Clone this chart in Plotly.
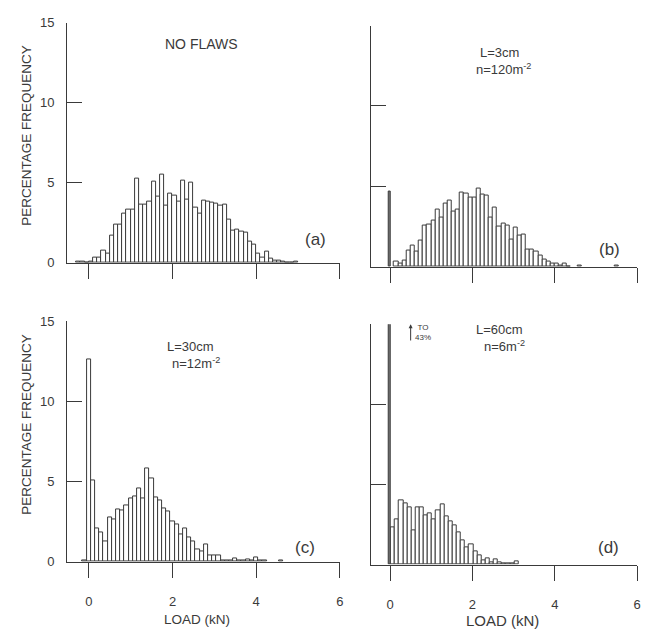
import plotly.graph_objects as go

# ---------------- data (percentage frequency per 0.1 kN load bin) ----------------
bin_w = 0.1

# (a) no flaws: bins with left edges from -0.3 kN
a_start = -0.3
a_vals = [0.1, 0.08, 0.0,
          0.1, 0.3, 0.35, 0.75, 0.55, 1.7, 2.4, 2.4, 3.05, 3.3,
          3.35, 5.25, 3.65, 3.65, 3.85, 5.05, 4.15, 5.5, 3.6, 4.3,
          4.2, 3.8, 5.15, 3.95, 5.0, 3.45, 3.1, 3.9, 3.8, 3.75,
          3.7, 3.6, 3.65, 2.7, 2.0, 2.05, 1.95, 1.9, 1.35, 1.15,
          0.55, 0.3, 0.72, 0.25, 0.12, 0.15, 0.06, 0.04, 0.03, 0.08]

# (b) L = 3 cm: spike at zero load, then bins from 0.1 kN
b_spike = 4.7
b_start = 0.1
b_vals = [0.35, 0.2, 0.4, 1.0, 1.33, 0.96, 1.6, 2.55, 2.65, 2.9,
          3.55, 3.07, 3.93, 4.1, 3.45, 3.58, 4.64, 4.54, 4.3, 4.3,
          4.85, 4.5, 4.4, 3.05, 3.68, 2.5, 2.7, 2.55, 1.68, 2.45,
          1.92, 1.98, 1.1, 1.1, 0.96, 0.7, 0.45, 0.3, 0.2, 0.2,
          0.08, 0.2, 0.04]
b_out_x = [4.6, 5.5]
b_out_y = [0.1, 0.06]

# (c) L = 30 cm: bins centred from -0.1 kN
c_start = -0.1
c_vals = [0.1, 12.6, 5.1, 2.1, 1.84, 1.29, 2.78, 2.65, 3.29, 3.22,
          3.49, 3.94, 4.08, 4.59, 3.94, 5.82, 5.2, 4.04, 3.84, 3.33,
          3.12, 2.51, 2.35, 1.73, 2.1, 1.49, 1.24, 0.78, 0.67, 1.08,
          0.37, 0.37, 0.41, 0.1, 0.1, 0.1, 0.22, 0.1, 0.1, 0.16,
          0.06, 0.27, 0.1, 0.06]
c_out_x = [4.6]
c_out_y = [0.05]

# (d) L = 60 cm: spike to 43 % at zero load, then bins from 0.02 kN
d_spike = 43.0
d_start = 0.02
d_vals = [2.32, 2.83, 4.0, 3.84, 3.56, 2.11, 3.6, 3.6, 3.05, 3.19,
          2.83, 3.4, 3.76, 2.99, 2.68, 2.48, 2.01, 1.52, 1.06, 1.26,
          0.85, 0.55, 0.24, 0.39, 0.14, 0.35, 0.14, 0.1, 0.06, 0.1,
          0.18]

y_ticks = [0, 5, 10, 15]
x_ticks = [0, 2, 4, 6]
x_tick_text = ["0", "2", "4", "6"]

# ---------------- layout geometry ----------------
W, H = 655, 639
INK = "#3a3a3a"
FONT = "Liberation Sans, Arial, Helvetica, sans-serif"


def px(x):
    return x / W


def py(y):
    return 1 - y / H


def centers(start, n, centred=False):
    off = 0 if centred else bin_w / 2
    return [round(start + i * bin_w + off, 4) for i in range(n)]


fig = go.Figure()

bar_style = dict(marker=dict(color="white", line=dict(color=INK, width=1)),
                 width=bin_w, showlegend=False, hoverinfo="skip")
spike_style = dict(marker=dict(color="#7a7a7a", line=dict(color=INK, width=1)),
                   width=0.05, showlegend=False, hoverinfo="skip")

# panel a
fig.add_trace(go.Bar(x=centers(a_start, len(a_vals)), y=a_vals, xaxis="x", yaxis="y", **bar_style))
# panel b
fig.add_trace(go.Bar(x=centers(b_start, len(b_vals)), y=b_vals, xaxis="x2", yaxis="y2", **bar_style))
fig.add_trace(go.Bar(x=b_out_x, y=b_out_y, xaxis="x2", yaxis="y2", **bar_style))
fig.add_trace(go.Bar(x=[0], y=[b_spike], xaxis="x2", yaxis="y2", **spike_style))
# panel c
fig.add_trace(go.Bar(x=centers(c_start, len(c_vals), centred=True), y=c_vals, xaxis="x3", yaxis="y3", **bar_style))
fig.add_trace(go.Bar(x=c_out_x, y=c_out_y, xaxis="x3", yaxis="y3", **bar_style))
# panel d
fig.add_trace(go.Bar(x=centers(d_start, len(d_vals)), y=d_vals, xaxis="x4", yaxis="y4", **bar_style))
fig.add_trace(go.Bar(x=[0], y=[d_spike], xaxis="x4", yaxis="y4", **spike_style))

# axis domains (pixel based)
panels = {
    "a": dict(x=(67.5, 342), y=(262, 16), xr=[-0.52, 6]),
    "b": dict(x=(373, 641), y=(266, 19), xr=[-0.47, 6]),
    "c": dict(x=(67.5, 342), y=(568, 322), xr=[-0.52, 6]),
    "d": dict(x=(373, 641), y=(571, 325), xr=[-0.47, 6]),
}

names = ["a", "b", "c", "d"]
for k, name in enumerate(names):
    p = panels[name]
    sx = "" if k == 0 else str(k + 1)
    show_x_labels = name in ("c", "d")
    show_y_labels = name in ("a", "c")
    fig.layout["xaxis" + sx] = dict(
        domain=[px(p["x"][0]), px(p["x"][1])], range=p["xr"],
        anchor="y" + sx, showline=True, linecolor=INK, linewidth=1.2,
        ticks="outside", ticklen=15, tickwidth=1.2, tickcolor=INK,
        tickvals=x_ticks, ticktext=x_tick_text, showticklabels=show_x_labels,
        ticklabelstandoff=13,
        showgrid=False, zeroline=False, fixedrange=True,
        tickfont=dict(family=FONT, size=13, color=INK),
    )
    fig.layout["yaxis" + sx] = dict(
        domain=[py(p["y"][0]), py(p["y"][1])], range=[0, 15],
        anchor="x" + sx, showline=True, linecolor=INK, linewidth=1.2,
        ticks="inside", ticklen=15, tickwidth=1.2, tickcolor=INK,
        tickvals=y_ticks, showticklabels=show_y_labels,
        ticklabelstandoff=9,
        showgrid=False, zeroline=False, fixedrange=True,
        tickfont=dict(family=FONT, size=13, color=INK),
    )

annotations = []


def text(x, y, s, size=13, angle=0):
    annotations.append(dict(x=px(x), y=py(y), xref="paper", yref="paper", text=s,
                            showarrow=False, textangle=angle,
                            font=dict(family=FONT, size=size, color=INK),
                            xanchor="center", yanchor="middle"))


text(27, 131, "PERCENTAGE FREQUENCY", 13.5, -90)
text(27, 427, "PERCENTAGE FREQUENCY", 13.5, -90)
text(203, 38, "NO FLAWS", 14)
text(503, 47, "L=3cm", 13)
text(507, 64, "n=120m<sup>-2</sup>", 13)
text(192, 348, "L=30cm", 13)
text(197, 365, "n=12m<sup>-2</sup>", 13)
text(503, 330, "L=60cm", 13)
text(508, 347, "n=6m<sup>-2</sup>", 13)
text(317, 238, "(a)", 17)
text(613, 248, "(b)", 17)
text(307, 553, "(c)", 17)
text(612, 554, "(d)", 17)
text(198, 627, "LOAD (kN)", 13.5)
text(506, 628, "LOAD (kN)", 15)
text(426, 333, "TO<br>43%", 8)

# arrow "to 43%"
annotations.append(dict(x=0.5, y=15.0, xref="x4", yref="y4", ax=0.5, ay=13.9,
                        axref="x4", ayref="y4", text="", showarrow=True,
                        arrowhead=2, arrowsize=0.8, arrowwidth=1, arrowcolor=INK))

fig.update_layout(
    width=W, height=H, margin=dict(l=0, r=0, t=0, b=0),
    paper_bgcolor="white", plot_bgcolor="rgba(0,0,0,0)",
    barmode="overlay", bargap=0, annotations=annotations,
    font=dict(family=FONT, color=INK),
)

fig.write_html("out.html")
